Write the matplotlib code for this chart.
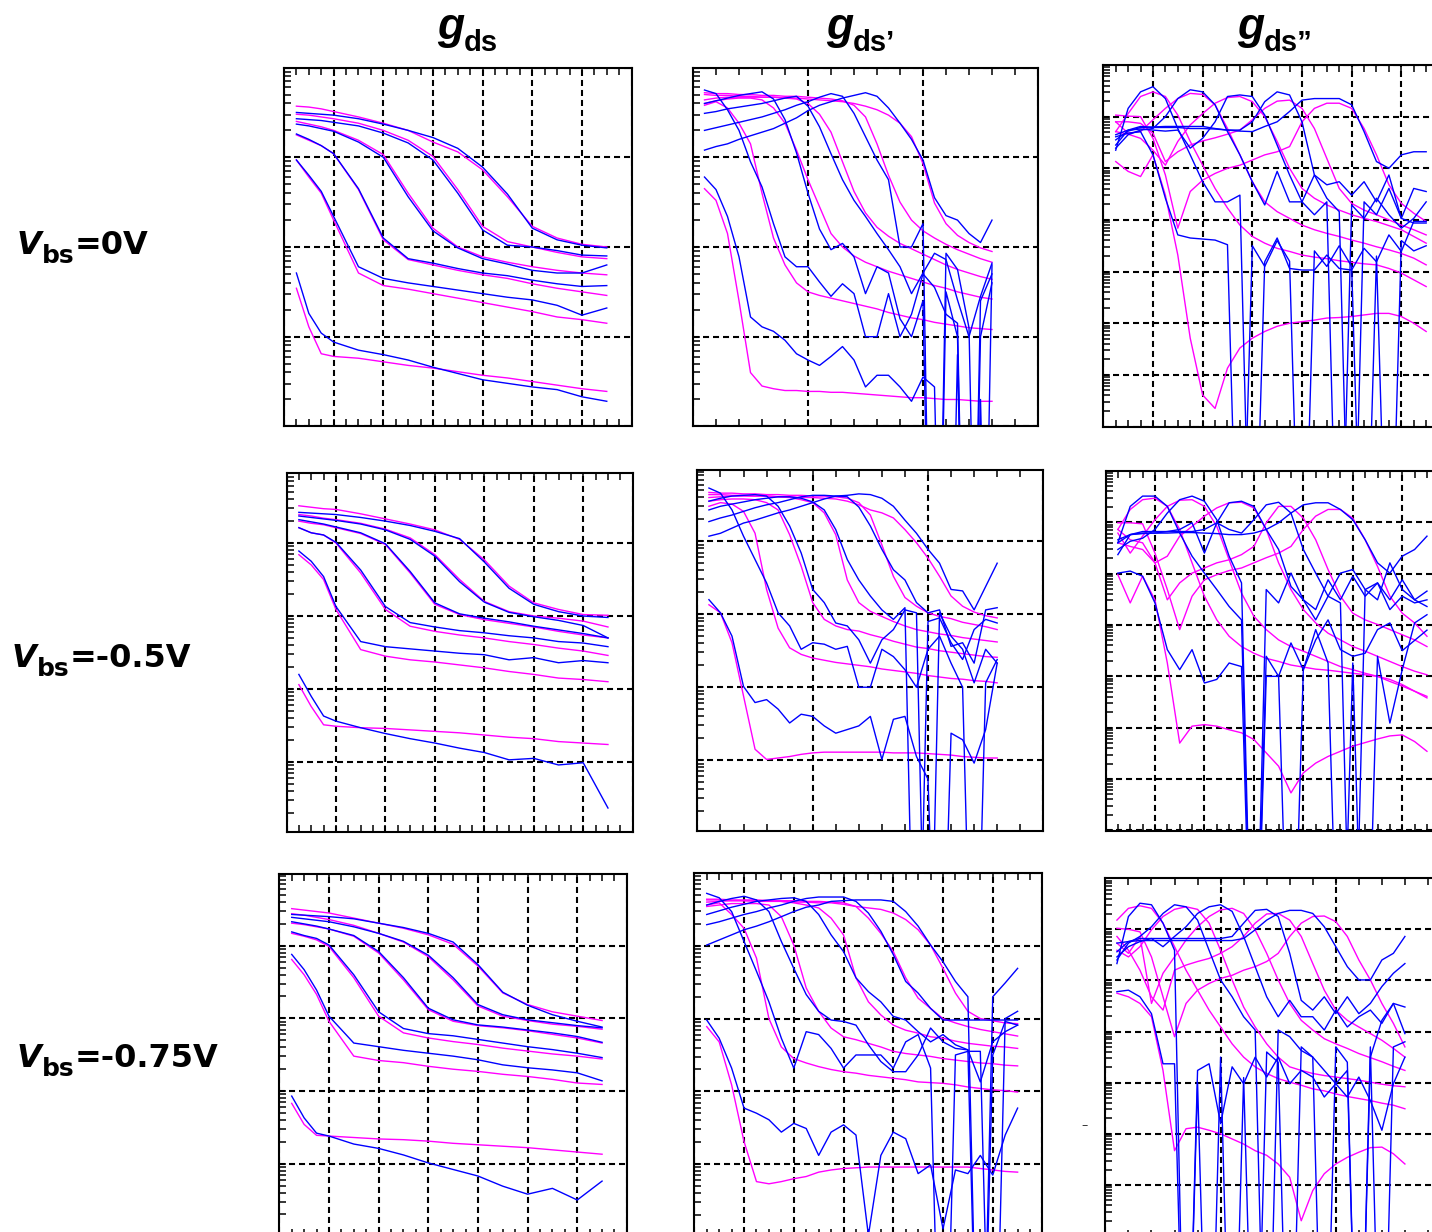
import numpy as np
import matplotlib.pyplot as plt
from matplotlib.ticker import MultipleLocator, LogLocator, NullFormatter

W, H = 1432, 1232
MAGENTA = '#ff00ff'
BLUE = '#0000ff'

# Vds sample points (V)
vds_a = [0.05, 0.1, 0.15, 0.2, 0.3, 0.4, 0.5, 0.6, 0.7, 0.8, 0.9, 1.0, 1.1, 1.2, 1.3]
vds_b = [0.05, 0.10, 0.15, 0.20, 0.25, 0.30, 0.35, 0.40, 0.45, 0.50, 0.55, 0.60, 0.65,
         0.70, 0.75, 0.80, 0.85, 0.90, 0.95, 1.00, 1.05, 1.10, 1.15, 1.20, 1.25, 1.30]

# all curves stored as log10 of the plotted quantity, one list per Vgs step
# (highest Vgs first); -9 marks samples that fall below the plotted range

# ---- gds, Vbs = 0 V
gds_0_model = [
    [-0.43, -0.44, -0.46, -0.49, -0.55, -0.62, -0.70, -0.83, -0.94, -1.14, -1.44, -1.77, -1.90, -1.97, -2.00],
    [-0.52, -0.53, -0.55, -0.57, -0.62, -0.70, -0.81, -0.99, -1.36, -1.77, -1.94, -2.00, -2.06, -2.11, -2.13],
    [-0.60, -0.63, -0.66, -0.70, -0.81, -0.97, -1.40, -1.79, -2.00, -2.11, -2.17, -2.22, -2.26, -2.29, -2.31],
    [-0.75, -0.81, -0.87, -0.96, -1.36, -1.92, -2.14, -2.20, -2.26, -2.31, -2.35, -2.41, -2.46, -2.50, -2.54],
    [-1.03, -1.22, -1.40, -1.70, -2.29, -2.43, -2.47, -2.52, -2.57, -2.62, -2.67, -2.72, -2.78, -2.81, -2.85],
    [-2.46, -2.89, -3.19, -3.22, -3.24, -3.28, -3.32, -3.35, -3.39, -3.43, -3.46, -3.50, -3.54, -3.58, -3.61],
]
gds_0_meas = [
    [-0.50, -0.51, -0.52, -0.53, -0.57, -0.63, -0.70, -0.78, -0.90, -1.11, -1.41, -1.79, -1.92, -1.98, -2.01],
    [-0.57, -0.58, -0.59, -0.61, -0.65, -0.73, -0.84, -1.03, -1.40, -1.81, -1.98, -2.00, -2.04, -2.09, -2.10],
    [-0.63, -0.65, -0.68, -0.71, -0.83, -1.00, -1.44, -1.82, -2.01, -2.13, -2.19, -2.26, -2.29, -2.29, -2.20],
    [-0.74, -0.80, -0.87, -0.96, -1.35, -1.90, -2.13, -2.18, -2.24, -2.29, -2.32, -2.37, -2.41, -2.44, -2.43],
    [-1.03, -1.20, -1.38, -1.66, -2.22, -2.35, -2.40, -2.44, -2.48, -2.52, -2.56, -2.59, -2.65, -2.76, -2.68],
    [-2.29, -2.74, -2.96, -3.06, -3.15, -3.20, -3.26, -3.34, -3.41, -3.48, -3.52, -3.56, -3.59, -3.67, -3.72],
]

# ---- gds, Vbs = -0.5 V
gds_05_model = [
    [-0.49, -0.51, -0.53, -0.54, -0.60, -0.67, -0.74, -0.82, -0.95, -1.23, -1.59, -1.82, -1.91, -1.98, -1.99],
    [-0.61, -0.63, -0.66, -0.68, -0.73, -0.81, -0.93, -1.16, -1.50, -1.80, -1.94, -2.00, -2.03, -2.07, -2.15],
    [-0.70, -0.73, -0.75, -0.79, -0.87, -1.02, -1.41, -1.84, -1.98, -2.05, -2.10, -2.15, -2.21, -2.26, -2.30],
    [-0.79, -0.86, -0.89, -1.00, -1.41, -1.91, -2.14, -2.21, -2.26, -2.30, -2.35, -2.39, -2.44, -2.48, -2.54],
    [-1.16, -1.30, -1.50, -1.91, -2.46, -2.55, -2.60, -2.63, -2.67, -2.71, -2.76, -2.80, -2.85, -2.87, -2.90],
    [-2.94, -3.24, -3.49, -3.51, -3.53, -3.54, -3.56, -3.58, -3.60, -3.63, -3.66, -3.68, -3.72, -3.74, -3.76],
]
gds_05_meas = [
    [-0.58, -0.59, -0.60, -0.61, -0.65, -0.70, -0.76, -0.84, -0.94, -1.26, -1.62, -1.84, -1.94, -2.00, -2.02],
    [-0.63, -0.65, -0.67, -0.69, -0.74, -0.82, -0.95, -1.18, -1.53, -1.81, -1.95, -2.01, -2.06, -2.13, -2.30],
    [-0.68, -0.71, -0.74, -0.78, -0.86, -1.01, -1.39, -1.82, -1.97, -2.03, -2.08, -2.14, -2.19, -2.24, -2.30],
    [-0.79, -0.86, -0.89, -0.99, -1.37, -1.87, -2.09, -2.15, -2.20, -2.23, -2.27, -2.30, -2.35, -2.37, -2.42],
    [-1.11, -1.25, -1.46, -1.87, -2.35, -2.42, -2.45, -2.48, -2.51, -2.53, -2.60, -2.57, -2.64, -2.61, -2.64],
    [-2.80, -3.10, -3.37, -3.44, -3.53, -3.61, -3.68, -3.74, -3.81, -3.87, -3.97, -3.95, -4.04, -4.01, -4.63],
]

# ---- gds, Vbs = -0.75 V
gds_075_model = [
    [-0.49, -0.51, -0.53, -0.55, -0.62, -0.69, -0.76, -0.85, -0.98, -1.28, -1.65, -1.81, -1.91, -1.97, -2.03],
    [-0.56, -0.58, -0.61, -0.64, -0.72, -0.83, -0.95, -1.15, -1.47, -1.83, -1.97, -2.03, -2.08, -2.11, -2.15],
    [-0.69, -0.71, -0.74, -0.77, -0.87, -1.10, -1.47, -1.88, -2.04, -2.10, -2.13, -2.17, -2.22, -2.27, -2.34],
    [-0.83, -0.87, -0.92, -1.01, -1.44, -1.97, -2.20, -2.27, -2.32, -2.36, -2.41, -2.45, -2.49, -2.52, -2.56],
    [-1.19, -1.40, -1.67, -2.04, -2.52, -2.58, -2.61, -2.66, -2.70, -2.73, -2.77, -2.80, -2.84, -2.89, -2.91],
    [-3.17, -3.46, -3.61, -3.62, -3.64, -3.66, -3.67, -3.69, -3.72, -3.74, -3.76, -3.78, -3.81, -3.84, -3.87],
]
gds_075_meas = [
    [-0.57, -0.58, -0.59, -0.60, -0.63, -0.69, -0.75, -0.83, -0.95, -1.26, -1.64, -1.82, -1.95, -2.04, -2.12],
    [-0.61, -0.63, -0.65, -0.67, -0.74, -0.83, -0.94, -1.13, -1.44, -1.81, -1.95, -2.02, -2.06, -2.10, -2.13],
    [-0.67, -0.70, -0.73, -0.77, -0.86, -1.08, -1.44, -1.86, -2.02, -2.09, -2.12, -2.16, -2.20, -2.25, -2.33],
    [-0.81, -0.86, -0.90, -0.99, -1.40, -1.91, -2.14, -2.21, -2.24, -2.29, -2.34, -2.39, -2.43, -2.48, -2.54],
    [-1.12, -1.33, -1.61, -1.97, -2.34, -2.39, -2.44, -2.48, -2.52, -2.57, -2.64, -2.68, -2.71, -2.75, -2.86],
    [-3.07, -3.37, -3.58, -3.62, -3.73, -3.79, -3.88, -3.99, -4.08, -4.17, -4.31, -4.42, -4.34, -4.50, -4.24],
]

# ---- gds', Vbs = 0 V
d1_0_model = [
    [-0.30, -0.31, -0.31, -0.32, -0.32, -0.33, -0.33, -0.34, -0.34, -0.35, -0.36, -0.37, -0.38,
     -0.40, -0.43, -0.47, -0.53, -0.62, -0.77, -1.07, -1.51, -1.74, -1.87, -1.95, -2.01, -2.05],
    [-0.28, -0.29, -0.29, -0.30, -0.30, -0.31, -0.31, -0.32, -0.32, -0.33, -0.34, -0.35, -0.37,
     -0.42, -0.55, -0.85, -1.20, -1.50, -1.70, -1.82, -1.90, -1.97, -2.03, -2.08, -2.13, -2.17],
    [-0.36, -0.34, -0.33, -0.33, -0.33, -0.33, -0.33, -0.34, -0.35, -0.40, -0.52, -0.72, -1.05,
     -1.38, -1.62, -1.78, -1.88, -1.96, -2.02, -2.08, -2.14, -2.20, -2.25, -2.29, -2.33, -2.36],
    [-0.40, -0.37, -0.35, -0.34, -0.34, -0.36, -0.45, -0.62, -0.92, -1.25, -1.55, -1.85, -2.00,
     -2.10, -2.17, -2.22, -2.27, -2.31, -2.35, -2.39, -2.43, -2.46, -2.50, -2.53, -2.56, -2.58],
    [-0.42, -0.38, -0.45, -0.62, -0.85, -1.40, -1.90, -2.20, -2.40, -2.50, -2.54, -2.57, -2.60,
     -2.63, -2.66, -2.69, -2.73, -2.76, -2.79, -2.81, -2.84, -2.86, -2.88, -2.90, -2.91, -2.92],
    [-1.35, -1.48, -1.85, -2.60, -3.40, -3.55, -3.58, -3.60, -3.60, -3.61, -3.61, -3.62, -3.62,
     -3.63, -3.64, -3.65, -3.66, -3.67, -3.68, -3.68, -3.69, -3.70, -3.70, -3.71, -3.72, -3.72],
]
d1_0_meas = [
    [-0.92, -0.88, -0.85, -0.80, -0.76, -0.72, -0.68, -0.62, -0.56, -0.48, -0.42, -0.38, -0.34,
     -0.31, -0.28, -0.32, -0.45, -0.62, -0.80, -1.03, -1.45, -1.65, -1.70, -1.85, -1.95, -1.70],
    [-0.70, -0.67, -0.64, -0.61, -0.58, -0.55, -0.51, -0.47, -0.42, -0.38, -0.33, -0.29, -0.32,
     -0.51, -0.77, -1.03, -1.25, -2.00, -2.00, -1.74, -9, -2.07, -2.25, -2.90, -9, -2.20],
    [-0.51, -0.49, -0.46, -0.44, -0.42, -0.40, -0.37, -0.34, -0.32, -0.43, -0.66, -0.96, -1.25,
     -1.48, -1.66, -1.85, -2.03, -2.22, -2.52, -2.29, -2.07, -2.14, -2.59, -3.00, -2.55, -2.18],
    [-0.40, -0.37, -0.34, -0.31, -0.29, -0.27, -0.35, -0.58, -0.95, -1.40, -1.80, -2.03, -1.96,
     -2.11, -2.52, -2.22, -2.29, -2.80, -3.00, -2.60, -9, -2.50, -3.00, -9, -3.00, -2.40],
    [-0.25, -0.29, -0.47, -0.70, -1.05, -1.33, -1.74, -2.11, -2.22, -2.22, -2.39, -2.55, -2.41,
     -2.52, -3.00, -3.00, -2.52, -3.00, -2.75, -2.30, -2.45, -2.75, -2.85, -9, -2.60, -2.30],
    [-1.22, -1.36, -1.66, -2.11, -2.78, -2.89, -2.94, -3.04, -3.19, -3.26, -3.32, -3.22, -3.11,
     -3.26, -3.56, -3.43, -3.43, -3.56, -3.72, -3.45, -3.56, -9, -3.20, -9, -3.70, -9],
]

# ---- gds', Vbs = -0.5 V
d1_05_model = [
    [-0.36, -0.36, -0.37, -0.37, -0.38, -0.38, -0.39, -0.39, -0.40, -0.40, -0.41, -0.42, -0.45,
     -0.50, -0.57, -0.61, -0.68, -0.84, -1.02, -1.23, -1.48, -1.75, -1.89, -1.97, -2.02, -2.05],
    [-0.33, -0.34, -0.34, -0.35, -0.35, -0.36, -0.36, -0.37, -0.37, -0.38, -0.38, -0.39, -0.41,
     -0.47, -0.64, -1.05, -1.48, -1.77, -1.89, -1.98, -2.03, -2.06, -2.11, -2.14, -2.17, -2.21],
    [-0.40, -0.39, -0.38, -0.38, -0.38, -0.38, -0.39, -0.40, -0.43, -0.47, -0.61, -0.91, -1.53,
     -1.84, -1.96, -2.03, -2.10, -2.16, -2.21, -2.24, -2.27, -2.29, -2.32, -2.34, -2.36, -2.38],
    [-0.45, -0.43, -0.42, -0.42, -0.43, -0.47, -0.57, -0.91, -1.34, -1.84, -2.07, -2.16, -2.21,
     -2.23, -2.28, -2.32, -2.37, -2.41, -2.45, -2.47, -2.50, -2.52, -2.54, -2.56, -2.58, -2.59],
    [-0.52, -0.47, -0.49, -0.59, -0.89, -1.66, -2.19, -2.46, -2.55, -2.60, -2.63, -2.66, -2.68,
     -2.70, -2.72, -2.75, -2.77, -2.79, -2.81, -2.84, -2.86, -2.88, -2.89, -2.91, -2.92, -2.94],
    [-1.87, -1.98, -2.39, -3.12, -3.85, -3.99, -3.97, -3.95, -3.92, -3.90, -3.89, -3.89, -3.89,
     -3.89, -3.89, -3.89, -3.90, -3.90, -3.90, -3.91, -3.92, -3.93, -3.95, -3.96, -3.97, -3.97],
]
d1_05_meas = [
    [-0.93, -0.89, -0.82, -0.75, -0.71, -0.66, -0.61, -0.57, -0.52, -0.47, -0.42, -0.38, -0.37,
     -0.35, -0.36, -0.41, -0.52, -0.71, -0.89, -1.11, -1.30, -1.66, -1.68, -1.94, -1.62, -1.30],
    [-0.73, -0.68, -0.64, -0.59, -0.54, -0.50, -0.47, -0.43, -0.39, -0.37, -0.37, -0.38, -0.39,
     -0.53, -0.79, -1.11, -1.39, -1.53, -1.84, -1.98, -1.94, -2.44, -2.39, -2.67, -1.94, -1.91],
    [-0.57, -0.52, -0.49, -0.46, -0.43, -0.41, -0.39, -0.39, -0.41, -0.46, -0.57, -0.84, -1.25,
     -1.53, -1.75, -1.94, -2.07, -1.91, -9, -2.10, -2.05, -2.39, -2.62, -2.21, -2.07, -2.12],
    [-0.45, -0.41, -0.38, -0.37, -0.36, -0.38, -0.52, -0.79, -1.16, -1.66, -1.84, -2.12, -2.16,
     -2.35, -2.67, -2.35, -2.21, -1.94, -1.98, -9, -1.98, -2.30, -2.48, -2.94, -2.48, -2.67],
    [-0.27, -0.34, -0.57, -0.93, -1.25, -1.57, -1.98, -2.16, -2.48, -2.39, -2.41, -2.48, -2.44,
     -3.00, -3.00, -2.48, -2.58, -2.76, -3.00, -2.48, -2.30, -2.67, -3.00, -9, -2.94, -2.62],
    [-1.80, -1.98, -2.30, -2.99, -3.21, -3.17, -3.30, -3.49, -3.37, -3.40, -3.53, -3.63, -3.58,
     -3.53, -3.40, -3.99, -3.44, -3.40, -3.95, -4.26, -9, -3.63, -3.72, -4.04, -3.58, -2.67],
]

# ---- gds', Vbs = -0.75 V
d1_075_model = [
    [-0.37, -0.37, -0.38, -0.38, -0.39, -0.39, -0.39, -0.40, -0.40, -0.41, -0.41, -0.43, -0.46,
     -0.48, -0.50, -0.55, -0.64, -0.78, -0.99, -1.31, -1.65, -1.90, -2.00, -2.03, -2.06, -2.07],
    [-0.36, -0.36, -0.37, -0.37, -0.37, -0.38, -0.38, -0.38, -0.39, -0.39, -0.40, -0.41, -0.46,
     -0.62, -0.83, -1.08, -1.44, -1.72, -1.86, -2.00, -2.06, -2.11, -2.15, -2.18, -2.21, -2.24],
    [-0.40, -0.39, -0.38, -0.38, -0.38, -0.38, -0.39, -0.41, -0.44, -0.48, -0.62, -0.85, -1.44,
     -1.77, -1.95, -2.09, -2.16, -2.20, -2.25, -2.27, -2.31, -2.34, -2.36, -2.38, -2.39, -2.41],
    [-0.46, -0.44, -0.42, -0.42, -0.42, -0.44, -0.60, -0.99, -1.58, -1.90, -2.13, -2.25, -2.29,
     -2.34, -2.39, -2.45, -2.48, -2.50, -2.52, -2.55, -2.57, -2.59, -2.61, -2.62, -2.64, -2.65],
    [-0.44, -0.41, -0.57, -0.76, -1.17, -2.00, -2.39, -2.55, -2.61, -2.66, -2.70, -2.73, -2.75,
     -2.78, -2.80, -2.82, -2.84, -2.87, -2.88, -2.89, -2.91, -2.94, -2.96, -2.98, -2.99, -3.01],
    [-2.11, -2.32, -2.91, -3.69, -4.24, -4.27, -4.24, -4.20, -4.17, -4.11, -4.08, -4.06, -4.05,
     -4.04, -4.04, -4.04, -4.04, -4.04, -4.04, -4.04, -4.04, -4.04, -4.06, -4.08, -4.10, -4.11],
]
d1_075_meas = [
    [-0.99, -0.92, -0.85, -0.78, -0.73, -0.67, -0.60, -0.53, -0.47, -0.44, -0.39, -0.38, -0.37,
     -0.37, -0.37, -0.39, -0.53, -0.73, -0.99, -1.22, -1.49, -1.70, -9, -1.70, -1.51, -1.31],
    [-0.71, -0.67, -0.62, -0.57, -0.53, -0.48, -0.44, -0.39, -0.35, -0.33, -0.33, -0.33, -0.39,
     -0.55, -0.80, -1.12, -1.49, -1.65, -1.86, -2.02, -2.02, -2.02, -2.02, -2.02, -2.02, -2.02],
    [-0.57, -0.52, -0.47, -0.43, -0.39, -0.37, -0.35, -0.34, -0.39, -0.57, -0.85, -1.08, -1.44,
     -1.63, -1.77, -1.97, -2.02, -2.18, -2.32, -2.22, -2.36, -2.43, -2.87, -2.32, -2.18, -2.09],
    [-0.44, -0.39, -0.35, -0.32, -0.37, -0.53, -0.94, -1.31, -1.67, -1.90, -2.02, -2.04, -2.09,
     -2.36, -2.59, -2.73, -2.73, -2.50, -2.13, -2.32, -2.41, -2.43, -9, -2.50, -2.04, -2.09],
    [-0.28, -0.34, -0.53, -0.94, -1.35, -1.77, -2.27, -2.68, -2.18, -2.22, -2.41, -2.68, -2.50,
     -2.50, -2.50, -2.68, -2.32, -2.22, -2.68, -9, -2.50, -2.45, -2.45, -9, -2.00, -1.90],
    [-2.02, -2.27, -2.68, -3.23, -3.30, -3.39, -3.56, -3.44, -3.51, -3.88, -3.56, -3.46, -3.60,
     -4.98, -3.88, -3.56, -3.65, -4.13, -4.01, -4.89, -4.08, -4.13, -3.88, -4.15, -3.60, -3.23],
]

# ---- gds'', Vbs = 0 V
d2_0_model = [
    [2.03, 2.01, 2.00, 1.58, 0.87, -0.16, 0.55, 0.77, 0.90, 1.00, 1.06, 1.16, 1.26,
     1.32, 1.42, 1.90, 2.16, 2.26, 2.26, 2.16, 1.77, 1.26, 0.68, 0.32, 0.13, -0.03],
    [1.90, 1.90, 1.87, 1.68, 1.13, 1.32, 1.45, 1.53, 1.59, 1.66, 1.74, 1.94, 2.16,
     2.30, 2.32, 2.16, 1.77, 1.19, 0.61, 0.32, 0.19, 0.10, 0.00, -0.10, -0.19, -0.29],
    [1.71, 1.66, 1.58, 1.35, 1.06, 1.52, 1.84, 2.06, 2.26, 2.37, 2.39, 2.29, 2.00,
     1.52, 1.00, 0.61, 0.42, 0.29, 0.19, 0.10, 0.03, -0.03, -0.11, -0.19, -0.32, -0.45],
    [1.90, 1.68, 1.71, 1.94, 2.16, 2.35, 2.45, 2.43, 2.23, 1.77, 1.26, 0.74, 0.35,
     0.16, 0.03, -0.10, -0.19, -0.26, -0.32, -0.39, -0.45, -0.52, -0.58, -0.65, -0.74, -0.87],
    [1.71, 2.06, 2.39, 2.48, 2.39, 2.03, 1.52, 1.06, 0.61, 0.23, -0.10, -0.32, -0.45,
     -0.55, -0.61, -0.68, -0.72, -0.75, -0.79, -0.82, -0.85, -0.87, -0.94, -1.03, -1.16, -1.29],
    [1.13, 0.94, 0.84, 1.26, 0.48, -0.68, -2.29, -3.39, -3.65, -2.87, -2.48, -2.29, -2.16,
     -2.06, -2.00, -1.97, -1.94, -1.90, -1.89, -1.87, -1.84, -1.81, -1.81, -1.87, -2.00, -2.16],
]
d2_0_meas = [
    [1.65, 1.74, 1.81, 1.79, 1.79, 1.79, 1.77, 1.77, 1.76, 1.74, 1.72, 1.71, 1.81,
     1.90, 2.10, 2.32, 2.35, 2.35, 2.35, 2.23, 1.71, 1.13, 1.00, 1.26, 1.32, 1.32],
    [1.55, 1.72, 1.79, 1.80, 1.81, 1.81, 1.81, 1.81, 1.77, 1.74, 1.74, 1.90, 2.29,
     2.48, 2.42, 1.90, 0.87, 0.68, 0.74, 0.48, 0.74, 0.35, 0.87, 0.03, 0.61, 0.55],
    [1.45, 1.74, 1.76, 1.74, 1.72, 1.74, 1.39, 1.58, 1.90, 2.39, 2.42, 2.39, 2.03,
     1.45, 0.87, 0.35, 0.87, 0.42, 0.16, -9, 0.35, 0.10, 0.61, 0.03, -0.06, -0.06],
    [1.39, 1.65, 1.74, 1.77, 2.00, 2.35, 2.52, 2.48, 2.23, 1.71, 1.26, 0.74, 0.29,
     0.94, 0.35, 0.35, 0.10, 0.35, -9, 0.29, 0.03, 0.42, 0.10, -0.16, 0.03, 0.35],
    [1.35, 2.16, 2.48, 2.58, 2.35, 1.77, 1.26, 0.74, 0.35, 0.35, 0.48, -9, -0.81,
     -0.35, -0.94, -0.97, -0.97, -0.68, -0.94, -0.97, -0.55, -0.81, -0.29, -0.61, -0.03, -0.03],
    [1.61, 1.68, 1.71, 1.26, 0.42, -0.29, -0.35, -0.37, -0.39, -0.48, -9, -0.50, -0.90,
     -0.40, -0.80, -9, -0.60, -0.90, -0.50, -0.90, -9, -0.70, -9, -0.40, -0.60, -0.50],
]

# ---- gds'', Vbs = -0.5 V
d2_05_model = [
    [1.99, 1.99, 1.97, 1.40, 0.69, -0.09, 0.56, 0.88, 0.98, 1.06, 1.11, 1.21, 1.31,
     1.40, 1.53, 1.86, 2.12, 2.25, 2.25, 2.08, 1.66, 1.14, 0.56, 0.23, 0.04, -0.22],
    [1.86, 1.66, 1.60, 1.21, 0.49, 0.82, 1.01, 1.11, 1.21, 1.27, 1.37, 1.53, 1.99,
     2.31, 2.31, 2.08, 1.66, 1.08, 0.56, 0.23, 0.10, 0.01, -0.09, -0.19, -0.29, -0.42],
    [1.60, 1.53, 1.47, 1.21, 1.34, 1.73, 1.92, 2.12, 2.28, 2.38, 2.39, 2.28, 1.86,
     1.21, 0.69, 0.30, 0.04, -0.16, -0.29, -0.42, -0.51, -0.61, -0.71, -0.81, -0.90, -0.97],
    [1.79, 1.40, 1.73, 2.05, 2.31, 2.43, 2.44, 2.31, 1.92, 1.27, 0.62, 0.17, -0.09,
     -0.29, -0.42, -0.51, -0.61, -0.71, -0.81, -0.87, -0.94, -1.00, -1.10, -1.19, -1.29, -1.39],
    [1.86, 2.25, 2.44, 2.47, 2.31, 1.86, 1.21, 0.56, 0.10, -0.22, -0.42, -0.55, -0.65,
     -0.71, -0.78, -0.82, -0.86, -0.88, -0.91, -0.94, -0.97, -1.00, -1.06, -1.16, -1.29, -1.42],
    [0.98, 0.43, 0.95, 0.49, -0.74, -2.30, -1.97, -1.94, -1.97, -2.04, -2.10, -2.23, -2.49,
     -2.75, -3.27, -2.88, -2.69, -2.56, -2.46, -2.36, -2.29, -2.22, -2.16, -2.14, -2.27, -2.46],
]
d2_05_meas = [
    [1.66, 1.76, 1.79, 1.79, 1.79, 1.80, 1.80, 1.79, 1.78, 1.76, 1.76, 1.79, 1.86,
     1.99, 2.18, 2.34, 2.38, 2.38, 2.25, 2.05, 1.66, 1.21, 1.01, 1.34, 1.47, 1.73],
    [1.60, 1.76, 1.78, 1.79, 1.82, 1.82, 1.82, 1.86, 1.99, 1.86, 1.79, 2.05, 2.34,
     2.39, 2.18, 1.47, 1.01, 0.56, 1.01, 1.08, 0.69, 0.49, 1.21, 0.69, 0.49, 0.66],
    [1.37, 1.76, 1.82, 1.82, 1.82, 1.86, 1.99, 1.40, 1.99, 2.38, 2.41, 2.31, 1.86,
     1.47, 0.75, 0.49, 0.10, 0.56, 0.43, -9, 0.69, 0.82, 0.49, 0.88, 0.49, 0.36],
    [1.47, 1.63, 1.69, 1.86, 2.18, 2.44, 2.51, 2.41, 2.05, 1.34, 0.82, -9, 0.69,
     0.43, 1.01, 0.49, 0.30, 0.88, 0.49, 0.95, 0.56, 0.82, 0.30, 0.56, 0.43, 0.49],
    [1.60, 2.31, 2.51, 2.51, 2.31, 1.79, 1.34, 1.01, 0.69, 0.36, 0.10, -9, -0.61,
     -1.00, -0.35, -0.87, -0.29, 0.10, -0.48, -0.61, -0.55, -0.09, 0.04, -0.50, -0.30, -0.10],
    [1.01, 1.05, 0.95, 0.43, -0.48, -0.87, -0.48, -1.13, -1.06, -0.74, -0.81, -9, -1.00,
     -1.00, -9, -0.87, -0.09, -0.74, -9, -0.74, -9, -0.61, -1.91, -0.87, 0.04, 0.20],
]

# ---- gds'', Vbs = -0.75 V
d2_075_model = [
    [2.02, 2.00, 1.95, 1.46, 0.68, -0.10, 0.55, 0.81, 0.94, 1.04, 1.10, 1.20, 1.27,
     1.37, 1.53, 1.86, 2.12, 2.25, 2.26, 2.15, 1.86, 1.40, 1.01, 0.55, 0.16, -0.30],
    [1.86, 1.59, 1.20, 0.68, 0.42, 1.20, 1.30, 1.37, 1.43, 1.53, 1.66, 1.86, 2.12,
     2.30, 2.31, 2.18, 1.86, 1.33, 0.81, 0.42, 0.22, 0.09, -0.04, -0.17, -0.33, -0.50],
    [1.73, 1.53, 1.86, 0.55, 1.14, 1.46, 1.79, 2.05, 2.25, 2.38, 2.41, 2.31, 1.99,
     1.53, 1.01, 0.55, 0.22, 0.03, -0.14, -0.24, -0.33, -0.43, -0.51, -0.59, -0.68, -0.76],
    [1.59, 1.46, 1.66, 1.99, 2.25, 2.39, 2.44, 2.39, 2.12, 1.59, 1.01, 0.48, 0.09,
     -0.24, -0.50, -0.69, -0.76, -0.82, -0.86, -0.89, -0.92, -0.95, -0.99, -1.03, -1.06, -1.08],
    [2.18, 2.41, 2.46, 2.41, 2.12, 1.66, 1.20, 0.81, 0.42, 0.09, -0.24, -0.50, -0.69,
     -0.82, -0.92, -0.99, -1.05, -1.12, -1.16, -1.22, -1.27, -1.31, -1.35, -1.40, -1.44, -1.51],
    [0.75, 0.68, 0.55, 0.29, -0.76, -2.33, -1.90, -1.87, -1.93, -2.00, -2.10, -2.20, -2.33,
     -2.42, -2.59, -2.85, -3.70, -3.11, -2.78, -2.59, -2.46, -2.36, -2.27, -2.26, -2.39, -2.59],
]
d2_075_meas = [
    [1.73, 1.76, 1.78, 1.78, 1.78, 1.78, 1.78, 1.78, 1.78, 1.78, 1.78, 1.82, 1.99,
     2.18, 2.31, 2.37, 2.37, 2.31, 2.05, 1.66, 1.27, 1.01, 1.01, 1.40, 1.53, 1.86],
    [1.56, 1.76, 1.82, 1.82, 1.82, 1.82, 1.82, 1.82, 1.82, 1.82, 1.86, 2.12, 2.37,
     2.39, 2.25, 1.53, 0.61, 0.42, 0.68, 0.35, 0.68, 0.35, 0.55, 0.88, 1.14, 1.33],
    [1.46, 1.66, 1.76, 1.82, 1.66, 1.86, 2.05, 2.31, 2.44, 2.48, 2.35, 1.86, 1.27,
     0.68, 0.29, 0.61, 0.29, 0.29, 0.03, 0.42, 0.09, 0.29, 0.42, 0.16, 0.55, 0.48],
    [1.40, 1.73, 1.86, 2.05, 2.31, 2.48, 2.44, 2.18, 1.59, 1.01, 0.68, 0.29, 0.03,
     -9, 0.03, -0.10, -0.37, -0.50, -0.76, -1.02, -0.76, -9, -0.50, 0.22, 0.55, -0.04],
    [1.33, 2.25, 2.51, 2.48, 2.12, 1.59, -9, -0.76, -0.63, -1.80, -0.69, -1.02, -0.50,
     -0.89, -0.50, -1.02, -0.76, -0.89, -1.28, -1.02, -1.28, -0.89, -1.35, -1.93, -1.02, -0.50],
    [0.78, 0.81, 0.68, 0.35, -0.63, -0.63, -9, -1.00, -9, -0.50, -9, -0.90, -9,
     -0.40, -0.60, -9, -0.30, -0.50, -9, -0.30, -0.60, -9, -0.30, -9, -0.30, -0.20],
]

fig = plt.figure(figsize=(W / 100, H / 100), dpi=100)


def panel(box, xmax, xgrid, xtick, ylim, vds, model, meas):
    l, t, r, b = box
    ax = fig.add_axes([l / W, 1 - b / H, (r - l) / W, (b - t) / H])
    ax.set_yscale('log')
    ax.set_xlim(0, xmax)
    ax.set_ylim(*ylim)
    ax.xaxis.set_major_locator(MultipleLocator(xgrid))
    ax.xaxis.set_minor_locator(MultipleLocator(xtick))
    ax.yaxis.set_major_locator(LogLocator(base=10, numticks=20))
    ax.yaxis.set_minor_locator(LogLocator(base=10, subs=np.arange(2, 10), numticks=20))
    ax.yaxis.set_minor_formatter(NullFormatter())
    ax.tick_params(which='both', direction='in', top=True, bottom=True, left=True,
                   right=False, labelleft=False, labelbottom=False, length=5, width=1.1)
    ax.grid(True, which='major', color='black', linestyle=(0, (2.9, 1.9)), linewidth=1.5)
    for s in ax.spines.values():
        s.set_linewidth(1.5)
    for lg in model:
        ax.plot(vds, np.power(10.0, lg), color=MAGENTA, lw=1.0)
    for lg in meas:
        ax.plot(vds, np.power(10.0, lg), color=BLUE, lw=1.0)
    return ax


# row 1: Vbs = 0 V
panel((284, 67.6, 631.6, 426.4), 1.4, 0.2, 0.05, (1e-4, 1.0), vds_a, gds_0_model, gds_0_meas)
panel((693, 67.6, 1038, 426.4), 1.5, 0.5, 0.1, (1e-4, 1.0), vds_b, d1_0_model, d1_0_meas)
panel((1103.3, 65, 1451, 426.5), 1.4, 0.2, 0.05, (1e-4, 1e3), vds_b, d2_0_model, d2_0_meas)
# row 2: Vbs = -0.5 V
panel((286.5, 473, 632.7, 832.3), 1.4, 0.2, 0.05, (1.09e-5, 0.91), vds_a, gds_05_model, gds_05_meas)
panel((697.4, 470.3, 1043.3, 831.3), 1.5, 0.5, 0.1, (1.06e-5, 0.94), vds_b, d1_05_model, d1_05_meas)
panel((1105.5, 471.3, 1451.7, 831.3), 1.4, 0.2, 0.05, (9.6e-5, 984), vds_b, d2_05_model, d2_05_meas)
# row 3: Vbs = -0.75 V
panel((279.3, 874, 626.9, 1236), 1.4, 0.2, 0.05, (1.01e-5, 0.97), vds_a, gds_075_model, gds_075_meas)
panel((694.3, 873, 1042.5, 1236), 1.4, 0.2, 0.05, (1.03e-5, 1.0), vds_b, d1_075_model, d1_075_meas)
panel((1105.4, 878.3, 1451, 1237), 1.5, 0.5, 0.1, (9.6e-5, 994), vds_b, d2_075_model, d2_075_meas)

renderer = fig.canvas.get_renderer()


def rich(x, y, parts, family):
    # parts: (text, size in pt, style, baseline shift in px)
    for s, size, style, dy in parts:
        t = fig.text(x / W, 1 - (y + dy) / H, s, fontsize=size, fontweight='bold',
                     fontstyle=style, family=family, ha='left', va='baseline')
        x += t.get_window_extent(renderer).width


# column headings
for x0, tail in [(437, 'ds'), (826, 'ds\u2019'), (1237, 'ds\u201d')]:
    rich(x0, 39, [('g', 32, 'italic', 0), (tail, 21, 'normal', 12)], 'Liberation Sans')

# row headings
for x0, y0, val in [(17, 254, '=0V'), (12, 667, '=-0.5V'), (17, 1067, '=-0.75V')]:
    rich(x0, y0, [('V', 23, 'oblique', 0), ('bs', 18, 'normal', 9), (val, 23, 'normal', 0)],
         'DejaVu Sans')

fig.text(1085 / W, 1 - 1129 / H, '\u2013', fontsize=9, color='#333333', ha='center', va='baseline')

fig.savefig('out.png', dpi=100)
